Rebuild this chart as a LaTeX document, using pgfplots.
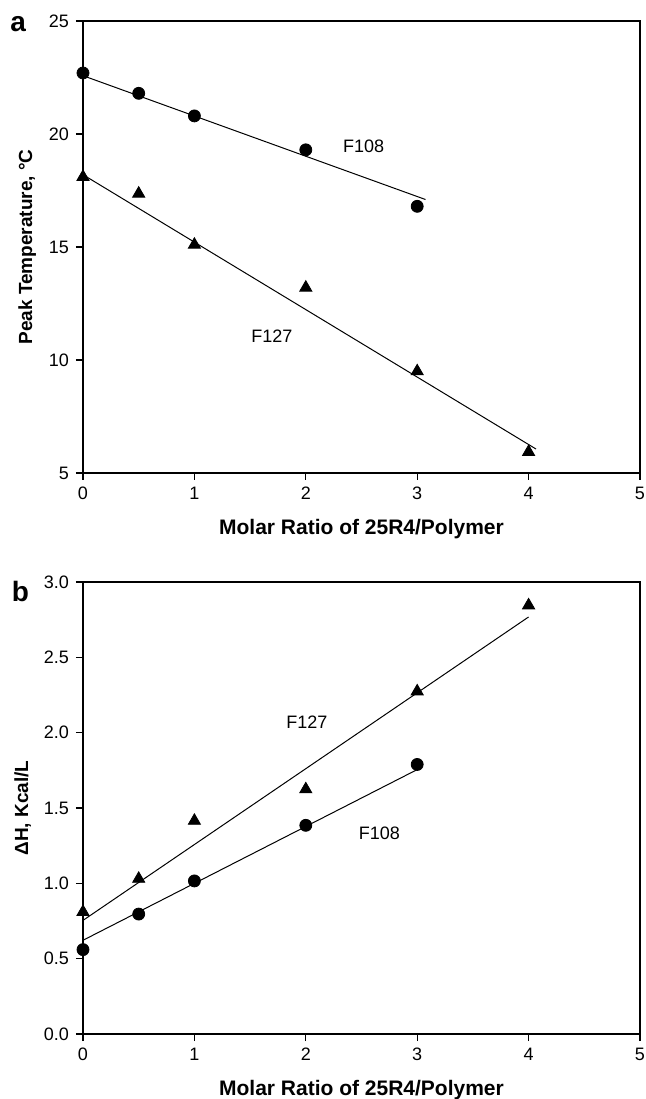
\documentclass[border=0pt]{standalone}
\usepackage{fontspec}
\setmainfont{Liberation Sans}
\usepackage{pgfplots}
\pgfplotsset{compat=1.18}

\newcommand{\tickfont}{\fontsize{9}{10.5}\selectfont}
\newcommand{\xlabelfont}{\fontsize{10.5}{12}\selectfont\bfseries}
\newcommand{\ylabelfont}{\fontsize{9.5}{11}\selectfont\bfseries}
\newcommand{\panelfont}{\fontsize{14}{16}\selectfont\bfseries}

\pgfplotsset{
  panel/.style={
    scale only axis,
    width=278.5pt, height=226pt,
    axis line style={line width=0.6pt},
    tick style={black, line width=0.6pt},
    tick align=outside,
    major tick length=3.5pt,
    xtick pos=bottom, ytick pos=left,
    xmin=0, xmax=5, xtick={0,1,2,3,4,5},
    tick label style={font=\tickfont},
    /pgf/number format/assume math mode=true,
    xlabel style={font=\xlabelfont, yshift=-3pt},
    ylabel style={font=\ylabelfont, yshift=-0.5pt},
    xlabel={Molar Ratio of 25R4/Polymer},
  },
  fit/.style={black, line width=0.5pt, no markers},
  circ/.style={only marks, mark=*, mark size=3pt, black},
  tri/.style={only marks, mark=triangle*, mark size=3.5pt, black},
}

\begin{document}
\begin{tikzpicture}
\useasboundingbox (0,0) rectangle (322.5pt,549.5pt);

% -- a: peak temperature
\begin{axis}[
  panel,
  at={(41.5pt,313pt)},
  ymin=5, ymax=25, ytick={5,10,15,20,25},
  ylabel={Peak Temperature, °C},
]
\addplot[fit] coordinates {(0,22.58) (3.075,17.1)};
\addplot[fit] coordinates {(0,18.2) (4.067,6.06)};
\addplot[circ] coordinates {
  (0,22.7) (0.5,21.8) (1,20.8) (2,19.3) (3,16.8)
};
\addplot[tri] coordinates {
  (0,18.1) (0.5,17.36) (1,15.1) (2,13.2) (3,9.5) (4,5.93)
};
\node[font=\tickfont] at (axis cs:2.52,19.45) {F108};
\node[font=\tickfont] at (axis cs:1.695,11.04) {F127};
\end{axis}
\node[anchor=base west, inner sep=0pt, font=\panelfont] at (5pt,533.5pt) {a};

% -- b: enthalpy
\begin{axis}[
  panel,
  at={(41.5pt,32.5pt)},
  ymin=0, ymax=3, ytick={0,0.5,1,1.5,2,2.5,3},
  yticklabel style={/pgf/number format/.cd, fixed, fixed zerofill, precision=1},
  ylabel={ΔH, Kcal/L},
]
\addplot[fit] coordinates {(0,0.622) (3,1.755)};
\addplot[fit] coordinates {(0,0.754) (4,2.768)};
\addplot[circ] coordinates {
  (0,0.56) (0.5,0.796) (1,1.016) (2,1.385) (3,1.789)
};
\addplot[tri] coordinates {
  (0,0.81) (0.5,1.03) (1,1.415) (2,1.624) (3,2.274) (4,2.845)
};
\node[font=\tickfont] at (axis cs:2.01,2.067) {F127};
\node[font=\tickfont] at (axis cs:2.66,1.33) {F108};
\end{axis}
\node[anchor=base west, inner sep=0pt, font=\panelfont] at (5.75pt,248.5pt) {b};

\end{tikzpicture}
\end{document}
